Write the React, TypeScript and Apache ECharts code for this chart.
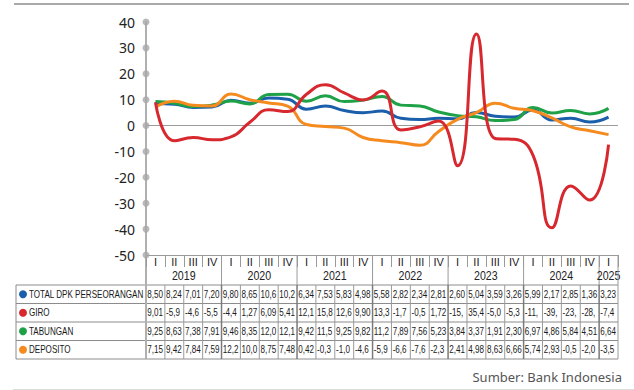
import React, { useEffect, useRef } from "react";
import * as echarts from "echarts";

const quarterLabels = ["I", "II", "III", "IV"];
const yearLabels = ["2019", "2020", "2021", "2022", "2023", "2024", "2025"];
const quartersPerYear = [4, 4, 4, 4, 4, 4, 1];
const yTicks = [40, 30, 20, 10, 0, -10, -20, -30, -40, -50];

const seriesNames = ["TOTAL DPK PERSEORANGAN", "GIRO", "TABUNGAN", "DEPOSITO"];
const seriesColors = ["#1b5faa", "#d7282f", "#1fa247", "#f58a1f"];

const totalDpk = [8.50, 8.24, 7.01, 7.20, 9.8, 8.65, 10.6, 10.2, 6.34, 7.53, 5.83, 4.98, 5.58, 2.82, 2.34, 2.81, 2.60, 5.04, 3.59, 3.26, 5.99, 2.17, 2.85, 1.36, 3.23];
const giro = [9.01, -5.9, -4.6, -5.5, -4.4, 1.27, 6.09, 5.41, 12.1, 15.8, 12.6, 9.90, 13.3, -1.7, -0.5, 1.72, -15.5, 35.4, -5.0, -5.3, -11.5, -39.5, -23.3, -28.8, -7.4];
const tabungan = [9.25, 8.63, 7.38, 7.91, 9.46, 8.35, 12.0, 12.1, 9.42, 11.5, 9.25, 9.82, 11.2, 7.89, 7.56, 5.23, 3.84, 3.37, 1.91, 2.30, 6.97, 4.86, 5.84, 4.51, 6.64];
const deposito = [7.15, 9.42, 7.84, 7.59, 12.2, 10.0, 8.75, 7.48, 0.42, -0.35, -1.0, -4.6, -5.9, -6.6, -7.6, -2.3, 2.41, 4.98, 8.63, 6.66, 5.74, 2.93, -0.5, -2.0, -3.5];

const seriesData = [totalDpk, giro, tabungan, deposito];
const sourceText = "Sumber: Bank Indonesia";

const ARIAL = "'Liberation Sans', Arial, sans-serif";
const SANS = "'Noto Sans', 'Open Sans', sans-serif";

const categories: string[] = [];
yearLabels.forEach((y, yi) => {
  for (let q = 0; q < quartersPerYear[yi]; q++) categories.push(y + " " + quarterLabels[q]);
});

const fmt = (v: number) => v.toFixed(2).replace(".", ",").slice(0, 4);

export default function App() {
  const ref = useRef<HTMLDivElement>(null);
  useEffect(() => {
    if (!ref.current) return;
    const chart = echarts.init(ref.current, null, { renderer: "svg" });
    const drawOrder = [0, 2, 3, 1];
    chart.setOption({
      animation: false,
      backgroundColor: "#ffffff",
      grid: { left: 146, right: 16, top: 22, bottom: 135 },
      xAxis: [
        {
          type: "category",
          data: categories,
          boundaryGap: true,
          position: "bottom",
          axisLine: { show: true, onZero: false, lineStyle: { color: "#9a9a9a", width: 1 } },
          axisTick: { show: true, interval: 0, length: 12, lineStyle: { color: "#9a9a9a" } },
          axisLabel: {
            interval: 0,
            margin: 1,
            fontSize: 11,
            fontFamily: ARIAL,
            color: "#222",
            formatter: (v: string) => v.split(" ")[1],
          },
          splitLine: { show: false },
        },
        { type: "value", min: 0, max: 1, show: false },
      ],
      yAxis: {
        type: "value",
        min: yTicks[yTicks.length - 1],
        max: yTicks[0],
        interval: 10,
        axisLine: { show: true, lineStyle: { color: "#b0b0b0", width: 2 } },
        axisTick: { show: false },
        splitLine: { show: false },
        axisLabel: { fontSize: 14, fontFamily: SANS, color: "#222", margin: 11 },
      },
      series: [
        ...drawOrder.map((i, k) => ({
          type: "line",
          name: seriesNames[i],
          data: seriesData[i],
          smooth: 0.5,
          symbol: "none",
          z: 3 + k,
          lineStyle: { width: 3, color: seriesColors[i] },
          itemStyle: { color: seriesColors[i] },
          markLine:
            k === 0
              ? {
                  silent: true,
                  symbol: "none",
                  label: { show: false },
                  lineStyle: { color: "#9a9a9a", width: 1, type: "solid" },
                  data: [{ yAxis: 0 }],
                }
              : undefined,
        })),
        {
          type: "scatter",
          xAxisIndex: 1,
          data: yTicks.map((v) => [0, v]),
          symbolSize: 7,
          z: 10,
          itemStyle: { color: "#a8a8a8" },
          silent: true,
        },
      ],
    });

    const c0 = chart.convertToPixel({ xAxisIndex: 0 }, categories[0]) as number;
    const c1 = chart.convertToPixel({ xAxisIndex: 0 }, categories[1]) as number;
    const w = c1 - c0;
    const left = c0 - w / 2;
    const n = categories.length;
    const right = left + n * w;
    const yBottom = chart.convertToPixel({ yAxisIndex: 0 }, yTicks[yTicks.length - 1]) as number;
    const tableTop = yBottom + 30;
    const rowH = 18.5;
    const tableBottom = tableTop + rowH * seriesNames.length;
    const tableLeft = 16;

    const g: any[] = [];
    const line = (x1: number, y1: number, x2: number, y2: number, stroke: string, lw = 1) =>
      g.push({ type: "line", silent: true, shape: { x1, y1, x2, y2 }, style: { stroke, lineWidth: lw } });

    // year separators + labels
    let start = 0;
    yearLabels.forEach((yl, yi) => {
      const x = left + start * w;
      line(x, yBottom, x, tableTop, "#9a9a9a", 1);
      const end = start + quartersPerYear[yi];
      g.push({
        type: "text",
        silent: true,
        x: left + ((start + end) / 2) * w,
        y: yBottom + 20,
        scaleX: 0.85,
        style: { text: yl, fill: "#222", font: "12.5px " + ARIAL, align: "center", verticalAlign: "middle" },
      });
      start = end;
    });
    line(right, yBottom, right, tableTop, "#9a9a9a", 1);

    // table
    for (let r = 0; r <= seriesNames.length; r++) {
      line(tableLeft, tableTop + r * rowH, right, tableTop + r * rowH, "#8c8c8c", 1);
    }
    line(tableLeft, tableTop, tableLeft, tableBottom, "#8c8c8c", 1);
    const yearStarts = new Set<number>();
    let acc = 0;
    quartersPerYear.forEach((q) => {
      yearStarts.add(acc);
      acc += q;
    });
    for (let i = 1; i <= n; i++) {
      const x = left + i * w;
      line(x, tableTop, x, tableBottom, yearStarts.has(i) ? "#7a7a7a" : "#9a9a9a", yearStarts.has(i) ? 1.5 : 1);
    }
    line(left, yBottom, left, tableBottom, "#b0b0b0", 2);

    seriesNames.forEach((name, r) => {
      const cy = tableTop + r * rowH + rowH / 2;
      g.push({ type: "circle", silent: true, shape: { cx: 23, cy, r: 4 }, style: { fill: seriesColors[r] } });
      g.push({
        type: "text",
        silent: true,
        x: 29,
        y: cy,
        scaleX: 0.77,
        style: { text: name, fill: "#1a1a1a", font: "10.5px " + ARIAL, verticalAlign: "middle" },
      });
      seriesData[r].forEach((v, i) => {
        g.push({
          type: "text",
          silent: true,
          x: left + i * w + 1.2,
          y: cy,
          scaleX: 0.77,
          style: { text: fmt(v), fill: "#1a1a1a", font: "10.5px " + ARIAL, verticalAlign: "middle" },
        });
      });
    });

    // frame lines and source
    line(14, 4, 629, 4, "#555555", 1);
    line(13, 389.5, 634, 389.5, "#dddddd", 1);
    g.push({
      type: "text",
      silent: true,
      x: 622,
      y: 377,
      style: { text: sourceText, fill: "#555", font: "13px " + SANS, align: "right", verticalAlign: "middle" },
    });

    chart.setOption({ graphic: g });
    return () => chart.dispose();
  }, []);
  return (
    <div style={{ position: "fixed", left: 0, top: 0, width: 634, height: 390, background: "#fff" }}>
      <div ref={ref} style={{ width: 634, height: 390 }} />
    </div>
  );
}
